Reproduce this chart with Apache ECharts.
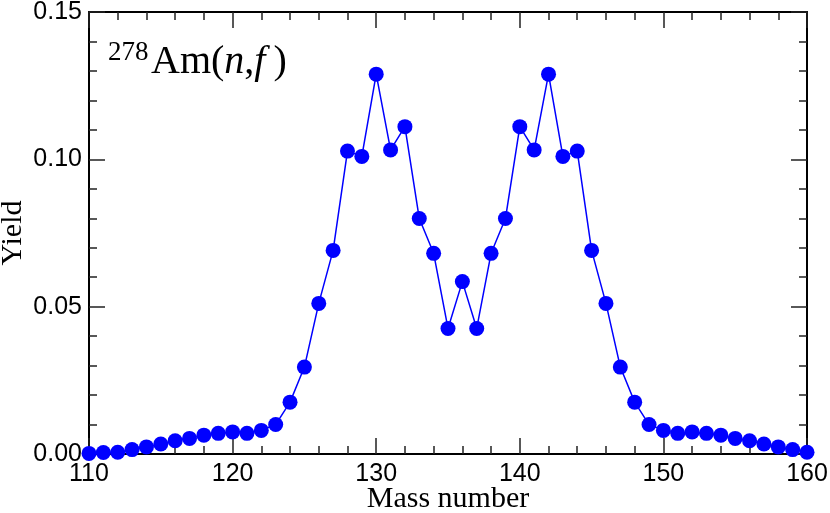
<!DOCTYPE html>
<html>
<head>
<meta charset="utf-8">
<script src="https://cdn.jsdelivr.net/npm/echarts@6/dist/echarts.min.js"></script>
<style>
  html, body { margin: 0; padding: 0; background: #fff; }
  #chart { width: 830px; height: 513px; }
</style>
</head>
<body>
<div id="chart"></div>
<script>
// mass numbers and fission yields
var massNumbers = [110, 111, 112, 113, 114, 115, 116, 117, 118, 119,
  120, 121, 122, 123, 124, 125, 126, 127, 128, 129,
  130, 131, 132, 133, 134, 135, 136, 137, 138, 139,
  140, 141, 142, 143, 144, 145, 146, 147, 148, 149,
  150, 151, 152, 153, 154, 155, 156, 157, 158, 159, 160];
var yields = [0.0002, 0.0005, 0.0006, 0.0015, 0.0024, 0.0034, 0.0045, 0.0053, 0.0064, 0.0070,
  0.0075, 0.0070, 0.0080, 0.0100, 0.0176, 0.0295, 0.0511, 0.0691, 0.1028, 0.1010,
  0.1289, 0.1032, 0.1111, 0.0799, 0.0681, 0.0426, 0.0585, 0.0426, 0.0681, 0.0799,
  0.1111, 0.1032, 0.1289, 0.1010, 0.1028, 0.0691, 0.0511, 0.0295, 0.0176, 0.0100,
  0.0080, 0.0070, 0.0075, 0.0070, 0.0064, 0.0053, 0.0045, 0.0034, 0.0024, 0.0015, 0.0006];

var points = massNumbers.map(function (m, i) { return [m, yields[i]]; });

var tickFont = { color: "#000", fontFamily: "Liberation Sans", fontSize: 25 };

function frameAxis(extra) {
  var base = {
    axisLine: { show: true, onZero: false, lineStyle: { color: "#000", width: 2 } },
    axisTick: { show: true, inside: true, length: 16, lineStyle: { color: "#222", width: 1.5 } },
    minorTick: { show: true, splitNumber: 5, length: 8, lineStyle: { color: "#222", width: 1.5 } },
    splitLine: { show: false },
    minorSplitLine: { show: false }
  };
  return Object.assign(base, extra);
}

var myChart = echarts.init(document.getElementById("chart"));
myChart.setOption({
  animation: false,
  backgroundColor: "#fff",
  grid: { left: 89, right: 23, top: 12, bottom: 59, outerBoundsMode: "none" },
  xAxis: [
    frameAxis({
      type: "value", position: "bottom", min: 110, max: 160, interval: 10,
      name: "Mass number", nameLocation: "middle", nameGap: 30, nameMoveOverlap: false,
      nameTextStyle: { color: "#000", fontFamily: "Liberation Serif", fontSize: 30 },
      axisLabel: Object.assign({ margin: 8 }, tickFont)
    }),
    frameAxis({
      type: "value", position: "top", min: 110, max: 160, interval: 10,
      axisLabel: { show: false }
    })
  ],
  yAxis: [
    frameAxis({
      type: "value", position: "left", min: 0, max: 0.15, interval: 0.05,
      name: "Yield", nameLocation: "middle", nameGap: 61, nameMoveOverlap: false,
      nameTextStyle: { color: "#000", fontFamily: "Liberation Serif", fontSize: 30 },
      axisLabel: Object.assign({ margin: 7, formatter: function (v) { return v.toFixed(2); } }, tickFont)
    }),
    frameAxis({
      type: "value", position: "right", min: 0, max: 0.15, interval: 0.05,
      axisLabel: { show: false }
    })
  ],
  graphic: [
    {
      type: "text", left: 108, top: 39, z: 10,
      style: { text: "278", fill: "#000", font: "27px 'Liberation Serif'" }
    },
    {
      type: "text", left: 151, top: 42, z: 10,
      style: {
        text: "{n|Am(}{i|n}{n|,}{i|f}{n|\u2009)}",
        rich: {
          n: { fill: "#000", fontFamily: "Liberation Serif", fontSize: 40 },
          i: { fill: "#000", fontFamily: "Liberation Serif", fontStyle: "italic", fontSize: 40 }
        }
      }
    }
  ],
  series: [
    {
      type: "line",
      data: points,
      clip: false,
      symbol: "circle",
      symbolSize: 15,
      itemStyle: { color: "#0000ff" },
      lineStyle: { color: "#0000ff", width: 1.5 },
      z: 5
    }
  ]
});
</script>
</body>
</html>
